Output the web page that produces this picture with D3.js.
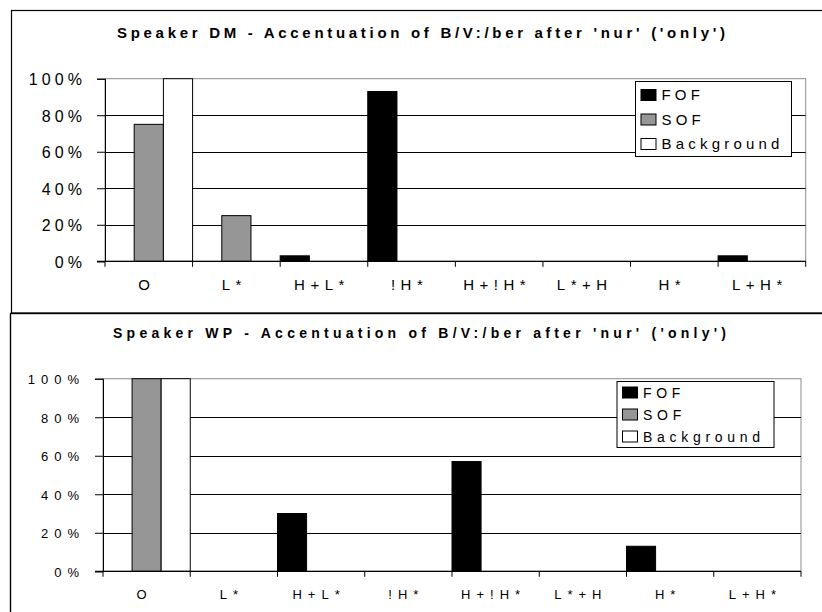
<!DOCTYPE html>
<html>
<head>
<meta charset="utf-8">
<script src="https://cdn.jsdelivr.net/npm/d3@7"></script>
<style>
  body { margin: 0; background: #fff; }
  svg { display: block; font-family: Arial, "Liberation Sans", sans-serif; }
</style>
</head>
<body>
<div id="chart"></div>
<script>
const categories = ["O", "L*", "H+L*", "!H*", "H+!H*", "L*+H", "H*", "L+H*"];
const seriesNames = ["FOF", "SOF", "Background"];
const yTicks = [0, 20, 40, 60, 80, 100];

// speaker DM (% of accents)
const dmFOF = [0, 0, 3, 93, 0, 0, 0, 3];
const dmSOF = [75, 25, 0, 0, 0, 0, 0, 0];
const dmBackground = [100, 0, 0, 0, 0, 0, 0, 0];

// speaker WP
const wpFOF = [0, 0, 30, 0, 57, 0, 13, 0];
const wpSOF = [100, 0, 0, 0, 0, 0, 0, 0];
const wpBackground = [100, 0, 0, 0, 0, 0, 0, 0];

const colors = { FOF: "#000000", SOF: "#969696", Background: "#ffffff" };

const width = 822, height = 612;

const svg = d3.select("#chart").append("svg")
  .attr("width", width)
  .attr("height", height);

// panel frames
svg.append("rect")
  .attr("x", 11.5).attr("y", 10.5)
  .attr("width", 830).attr("height", 302.5)
  .attr("fill", "none").attr("stroke", "#000").attr("stroke-width", 1.2);
svg.append("rect")
  .attr("x", 10.5).attr("y", 313.5)
  .attr("width", 830).attr("height", 320)
  .attr("fill", "none").attr("stroke", "#000").attr("stroke-width", 1.4);

const panels = [
  {
    title: "Speaker DM - Accentuation of B/V:/ber after 'nur' ('only')",
    values: [dmFOF, dmSOF, dmBackground],
    left: 105, right: 805.7, top: 78.7, bottom: 261.3,
    titleX: 421, titleY: 38, titleSize: 15, titleWidth: 608,
    tickSize: 16, tickSpacing: 4.1, tickRight: 82,
    labelSize: 15, labelSpacing: 5.5, labelY: 290,
    legend: { x: 635.5, y: 81.5, w: 156, h: 75, row0: 95, rowStep: 24.5, size: 15, spacing: 4.2 }
  },
  {
    title: "Speaker WP - Accentuation of B/V:/ber after 'nur' ('only')",
    values: [wpFOF, wpSOF, wpBackground],
    left: 103, right: 801, top: 378.7, bottom: 571.3,
    titleX: 419.5, titleY: 338.3, titleSize: 14, titleWidth: 613,
    tickSize: 13, tickSpacing: 6, tickRight: 79,
    labelSize: 13, labelSpacing: 6, labelY: 599,
    legend: { x: 617, y: 381.5, w: 157, h: 66, row0: 392.5, rowStep: 22, size: 14, spacing: 4.7 }
  }
];

panels.forEach(p => {
  const g = svg.append("g");

  const x = d3.scaleBand()
    .domain(categories)
    .range([p.left, p.right])
    .padding(0);

  const xs = d3.scaleBand()
    .domain(seriesNames)
    .range([0, x.bandwidth()])
    .padding(0);

  const y = d3.scaleLinear()
    .domain([0, 100])
    .range([p.bottom, p.top]);

  // plot area border (grey)
  g.append("rect")
    .attr("x", p.left).attr("y", y(100))
    .attr("width", p.right - p.left).attr("height", y(0) - y(100))
    .attr("fill", "none").attr("stroke", "#8c8c8c").attr("stroke-width", 1);

  // gridlines
  g.selectAll("line.grid")
    .data(yTicks.filter(t => t > 0 && t < 100))
    .join("line")
    .attr("class", "grid")
    .attr("x1", p.left).attr("x2", p.right)
    .attr("y1", d => Math.round(y(d)) + 0.5)
    .attr("y2", d => Math.round(y(d)) + 0.5)
    .attr("stroke", "#000").attr("stroke-width", 1);

  // bars
  const bars = [];
  seriesNames.forEach((s, si) => {
    categories.forEach((c, ci) => {
      const v = p.values[si][ci];
      if (v > 0) bars.push({ s, c, v });
    });
  });

  g.selectAll("rect.bar")
    .data(bars)
    .join("rect")
    .attr("class", "bar")
    .attr("x", d => x(d.c) + xs(d.s))
    .attr("y", d => y(d.v))
    .attr("width", xs.bandwidth())
    .attr("height", d => y(0) - y(d.v))
    .attr("fill", d => colors[d.s])
    .attr("stroke", "#000")
    .attr("stroke-width", 1);

  // y axis
  const yAxis = g.append("g")
    .attr("transform", `translate(${p.left},0)`)
    .call(d3.axisLeft(y).tickValues(yTicks).tickSize(8).tickFormat(d => d + "%"));
  yAxis.select(".domain").attr("stroke", "#000");
  yAxis.selectAll(".tick line").attr("stroke", "#000");
  yAxis.selectAll(".tick text")
    .attr("x", p.tickRight + p.tickSpacing - p.left)
    .attr("dy", "0.38em")
    .attr("fill", "#000")
    .style("font-size", p.tickSize + "px")
    .style("letter-spacing", p.tickSpacing + "px")
    .style("font-family", "Arial, 'Liberation Sans', sans-serif");

  // x axis: ticks at category boundaries
  const bounds = categories.map(c => x(c)).concat([p.right]);
  g.append("line")
    .attr("x1", p.left - 8).attr("x2", p.right)
    .attr("y1", y(0)).attr("y2", y(0))
    .attr("stroke", "#000").attr("stroke-width", 1.2);
  g.selectAll("line.xtick")
    .data(bounds)
    .join("line")
    .attr("class", "xtick")
    .attr("x1", d => d).attr("x2", d => d)
    .attr("y1", y(0)).attr("y2", y(0) + 5.5)
    .attr("stroke", "#000");

  g.selectAll("text.xlabel")
    .data(categories)
    .join("text")
    .attr("class", "xlabel")
    .attr("x", d => x(d) + x.bandwidth() / 2 - 2)
    .attr("y", p.labelY)
    .attr("text-anchor", "middle")
    .style("font-size", p.labelSize + "px")
    .style("letter-spacing", p.labelSpacing + "px")
    .text(d => d);

  // title
  g.append("text")
    .attr("x", p.titleX)
    .attr("y", p.titleY)
    .attr("text-anchor", "middle")
    .attr("textLength", p.titleWidth)
    .attr("lengthAdjust", "spacing")
    .style("font-size", p.titleSize + "px")
    .style("font-weight", "bold")
    .text(p.title);

  // legend
  const L = p.legend;
  const lg = g.append("g");
  lg.append("rect")
    .attr("x", L.x).attr("y", L.y)
    .attr("width", L.w).attr("height", L.h)
    .attr("fill", "#fff").attr("stroke", "#000").attr("stroke-width", 1);
  seriesNames.forEach((s, i) => {
    const cy = L.row0 + i * L.rowStep;
    lg.append("rect")
      .attr("x", L.x + 5.5).attr("y", cy - 5.5)
      .attr("width", 15).attr("height", 11)
      .attr("fill", colors[s]).attr("stroke", "#000").attr("stroke-width", 1);
    lg.append("text")
      .attr("x", L.x + 26)
      .attr("y", cy)
      .attr("dy", "0.36em")
      .style("font-size", L.size + "px")
      .style("letter-spacing", L.spacing + "px")
      .text(s);
  });
});
</script>
</body>
</html>
